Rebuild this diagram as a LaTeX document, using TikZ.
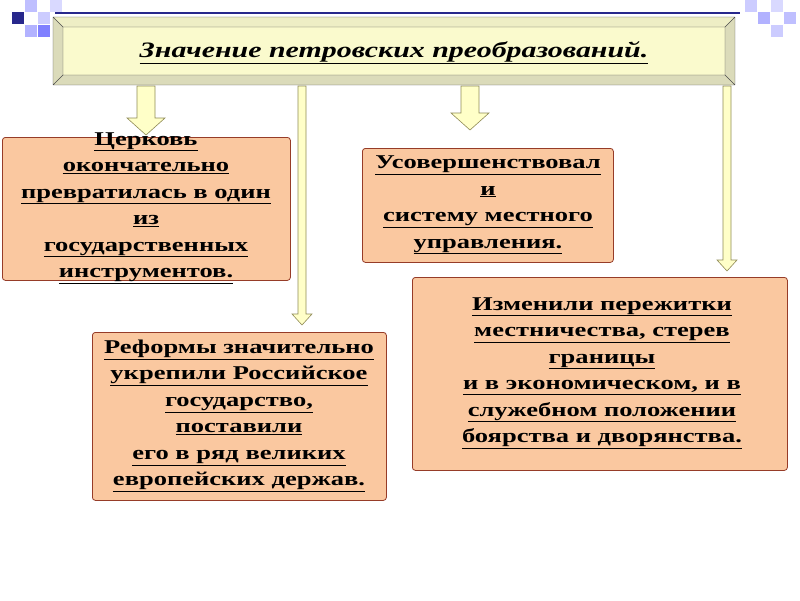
\documentclass[tikz,border=0pt]{standalone}
\usepackage{fontspec}
\setmainfont{Liberation Serif}[FakeStretch=1.36]
\usetikzlibrary{arrows.meta, positioning, calc}
\definecolor{peach}{RGB}{250,200,160}
\definecolor{boxline}{RGB}{150,60,40}
\definecolor{pale}{RGB}{255,255,200}
\definecolor{titlefill}{RGB}{250,250,205}
\definecolor{decoblue}{RGB}{40,40,140}
\newcommand{\ul}[1]{\underline{#1}}

\begin{document}
\begin{tikzpicture}[
    x=1pt, y=-1pt,
    font=\bfseries\fontsize{19.5}{26.5}\selectfont,
    % Node styles
    infobox/.style={draw=boxline, fill=peach, rounded corners=3pt, line width=0.8pt},
    infotext/.style={align=center, inner sep=0pt},
    arrowshape/.style={draw=gray!60!olive, fill=pale, line width=0.6pt},
]
\useasboundingbox (0,0) rectangle (800,600);
\fill[white] (0,0) rectangle (800,600);

% decoration squares
\foreach \x/\y/\c in {12/12/decoblue, 25/0/blue!25, 25/25/blue!30, 38/12/blue!20, 38/25/blue!50, 50/0/blue!15} {
    \fill[\c] (\x,\y) rectangle ++(12,12);
}
\foreach \x/\y/\c in {745/0/blue!20, 758/12/blue!30, 771/0/blue!15, 771/25/blue!20, 784/12/blue!25} {
    \fill[\c] (\x,\y) rectangle ++(12,12);
}
\draw[decoblue, line width=2pt] (55,13) -- (740,13);

% title box (bevel)
\fill[titlefill!75!gray] (53,17) rectangle (735,85);
\fill[titlefill!90!gray] (53,17) -- (735,17) -- (725,27) -- (63,27) -- cycle;
\fill[titlefill] (63,27) rectangle (725,75);
\draw[gray!60!black] (53,17) rectangle (735,85) (63,27) rectangle (725,75)
    (53,17) -- (63,27) (735,17) -- (725,27) (53,85) -- (63,75) (735,85) -- (725,75);
\node (title) at (394,53) {\itshape\fontsize{22}{24}\selectfont\ul{Значение петровских преобразований.}};

% boxes
\node[infobox, minimum width=288pt, minimum height=143pt, anchor=north west] (church) at (2,137) {};
\node[infotext] at (146,208) {\ul{Церковь}\\\ul{окончательно}\\\ul{превратилась в один}\\\ul{из}\\\ul{государственных}\\\ul{инструментов.}};

\node[infobox, minimum width=251pt, minimum height=114pt, anchor=north west] (local) at (362,148) {};
\node[infotext] at (488,205) {\ul{Усовершенствовал}\\\ul{и}\\\ul{систему местного}\\\ul{управления.}};

\node[infobox, minimum width=294pt, minimum height=168pt, anchor=north west] (state) at (92,332) {};
\node[infotext] at (239,416) {\ul{Реформы значительно}\\\ul{укрепили Российское}\\\ul{государство,}\\\ul{поставили}\\\ul{его в ряд великих}\\\ul{европейских держав.}};

\node[infobox, minimum width=375pt, minimum height=193pt, anchor=north west] (estate) at (412,277) {};
\node[infotext] at (602,373) {\ul{Изменили пережитки}\\\ul{местничества, стерев}\\\ul{границы}\\\ul{и в экономическом, и в}\\\ul{служебном положении}\\\ul{боярства и дворянства.}};

% arrows
\draw[arrowshape] (137,86) -- (155,86) -- (155,118) -- (165,118) -- (146,135) -- (127,118) -- (137,118) -- cycle;
\draw[arrowshape] (461,86) -- (479,86) -- (479,113) -- (489,113) -- (470,130) -- (451,113) -- (461,113) -- cycle;
\draw[arrowshape] (298,86) -- (306,86) -- (306,314) -- (312,314) -- (302,325) -- (292,314) -- (298,314) -- cycle;
\draw[arrowshape] (723,86) -- (731,86) -- (731,260) -- (737,260) -- (727,271) -- (717,260) -- (723,260) -- cycle;

\end{tikzpicture}
\end{document}
